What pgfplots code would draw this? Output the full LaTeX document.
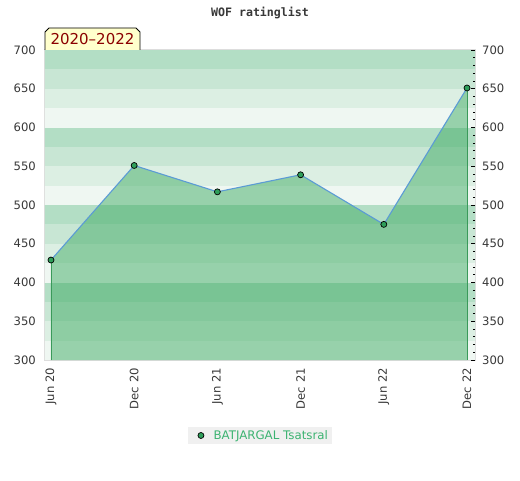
\documentclass[border=0pt]{standalone}
\usepackage{fontspec}
\setmainfont{DejaVu Sans}
\newfontfamily\monofont{DejaVu Sans Mono}
\usepackage{pgfplots}
\pgfplotsset{compat=1.18}
\definecolor{sA}{HTML}{B3DEC5}
\definecolor{sB}{HTML}{C8E6D4}
\definecolor{sC}{HTML}{DCEFE3}
\definecolor{sD}{HTML}{EFF7F2}
\definecolor{fillg}{RGB}{65,172,101}
\definecolor{vline}{HTML}{3A9A5A}
\definecolor{lineblue}{HTML}{5B9BD5}
\definecolor{markg}{HTML}{2E9E5A}
\definecolor{legbg}{HTML}{F0F0F0}
\definecolor{legtext}{HTML}{3CB371}
\definecolor{labgray}{HTML}{383838}
\definecolor{bordergray}{HTML}{DDDDDD}
\definecolor{boxyellow}{HTML}{FFFFCC}
\definecolor{boxred}{HTML}{8B0000}
\pgfplotstableread{
x y
0 429
1 551
2 517
3 539
4 475
5 651
}\ratings
\begin{document}
\begin{tikzpicture}[x=1pt,y=1pt]
\path[use as bounding box] (0,0) rectangle (520,480);
\begin{axis}[
  at={(45pt,120pt)}, anchor=south west,
  scale only axis, width=430pt, height=310pt,
  xmin=-0.072, xmax=5.096, ymin=300, ymax=700,
  axis line style={draw=bordergray, line width=1.5pt},
  xtick={0,1,2,3,4,5},
  xticklabels={Jun 20,Dec 20,Jun 21,Dec 21,Jun 22,Dec 22},
  xticklabel style={rotate=90, anchor=east, inner sep=0pt, font=\fontsize{11.6}{13}\selectfont, text=labgray},
  xticklabel shift=8pt,
  ytick={300,350,...,700},
  ytick pos=left,
  major tick length=0pt,
  yticklabel style={anchor=east, inner sep=0pt, font=\fontsize{11.6}{13}\selectfont, text=labgray},
  yticklabel shift=9pt,
  /pgf/number format/assume math mode=true,
  legend style={at={(0.5,-0.2435)}, anchor=center, fill=legbg, draw=none,
    font=\fontsize{11.8}{13}\selectfont, text=legtext, inner xsep=2.5pt, inner ysep=1pt,
    /tikz/every odd column/.append style={column sep=5pt}},
  legend cell align=left,
]
% background stripes
\fill[sA] (axis cs:-1,675) rectangle (axis cs:6,700);
\fill[sB] (axis cs:-1,650) rectangle (axis cs:6,675);
\fill[sC] (axis cs:-1,625) rectangle (axis cs:6,650);
\fill[sD] (axis cs:-1,600) rectangle (axis cs:6,625);
\fill[sA] (axis cs:-1,575) rectangle (axis cs:6,600);
\fill[sB] (axis cs:-1,550) rectangle (axis cs:6,575);
\fill[sC] (axis cs:-1,525) rectangle (axis cs:6,550);
\fill[sD] (axis cs:-1,500) rectangle (axis cs:6,525);
\fill[sA] (axis cs:-1,475) rectangle (axis cs:6,500);
\fill[sB] (axis cs:-1,450) rectangle (axis cs:6,475);
\fill[sC] (axis cs:-1,425) rectangle (axis cs:6,450);
\fill[sD] (axis cs:-1,400) rectangle (axis cs:6,425);
\fill[sA] (axis cs:-1,375) rectangle (axis cs:6,400);
\fill[sB] (axis cs:-1,350) rectangle (axis cs:6,375);
\fill[sC] (axis cs:-1,325) rectangle (axis cs:6,350);
\fill[sD] (axis cs:-1,300) rectangle (axis cs:6,325);
% area
\addplot[draw=none, fill=fillg, fill opacity=0.5, forget plot]
  coordinates {(0,300) (0,429) (1,551) (2,517) (3,539) (4,475) (5,651) (5,300)} -- cycle;
\addplot[draw=vline, line width=0.8pt, forget plot] coordinates {(0,300) (0,429)};
\addplot[draw=vline, line width=0.8pt, forget plot] coordinates {(5,300) (5,651)};
\addplot[draw=lineblue, line width=1.1pt, forget plot] table[x=x,y=y] {\ratings};
\addplot[only marks, mark=*, mark size=3pt, mark options={fill=markg, draw=black, line width=0.7pt},
  legend image code/.code={\path[draw=none,fill=none] (-7.5pt,0pt) -- (9pt,0pt);
    \node[circle, fill=markg, draw=black, line width=0.7pt, inner sep=0pt, minimum size=6pt] at (0pt,0pt) {};}]
  table[x=x,y=y] {\ratings};
\addlegendentry{BATJARGAL Tsatsral}
\end{axis}
\begin{axis}[
  at={(45pt,120pt)}, anchor=south west,
  scale only axis, width=430pt, height=310pt,
  xmin=-0.072, xmax=5.096, ymin=300, ymax=700,
  hide x axis,
  axis y line*=right,
  y axis line style={draw=none},
  ytick={300,350,...,700},
  minor y tick num=4,
  tick align=inside,
  major tick length=4pt,
  minor tick length=2.5pt,
  tick style={draw=black, line width=0.7pt},
  yticklabel style={anchor=west, inner sep=0pt, font=\fontsize{11.6}{13}\selectfont, text=labgray},
  yticklabel shift=7pt,
  /pgf/number format/assume math mode=true,
]
\end{axis}
\filldraw[fill=boxyellow, draw=black, line width=0.8pt]
  (45,430) -- (45,448) -- (49,452) -- (136,452) -- (140,448) -- (140,430);
\node[text=boxred, font=\fontsize{15}{16}\selectfont] at (92.5,441) {2020–2022};
\node[text=labgray, font=\monofont\bfseries\fontsize{11.6}{13}\selectfont] at (260,467) {WOF ratinglist};
\end{tikzpicture}
\end{document}
